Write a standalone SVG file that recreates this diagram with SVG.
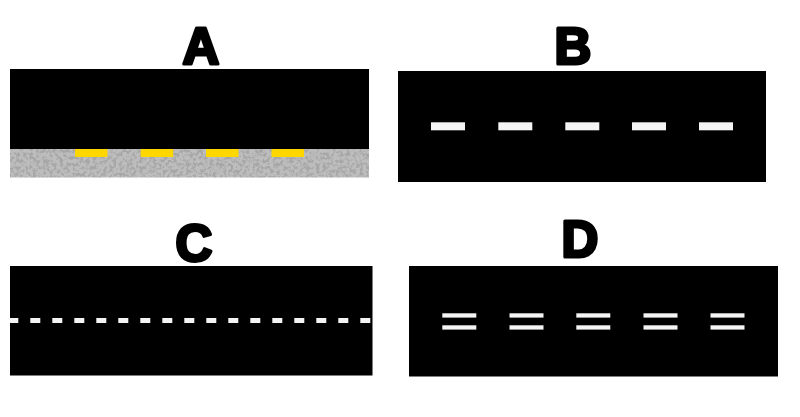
<svg xmlns="http://www.w3.org/2000/svg" width="800" height="417" viewBox="0 0 800 417">
<defs>
<style>
.lbl{font-family:"Liberation Sans",Arial,sans-serif;font-weight:bold;font-size:51px;fill:#000;stroke:#000;stroke-width:3.2;stroke-linejoin:round;text-anchor:middle}
.road{fill:#000}
.wd{fill:#f4f4f4}
.yd{fill:#ffd700}
</style>
<filter id="grit" x="0" y="0" width="100%" height="100%">
<feTurbulence type="fractalNoise" baseFrequency="0.3" numOctaves="3" seed="7" result="n"/>
<feColorMatrix in="n" type="matrix" values="0 0 0 0 0.38  0 0 0 0 0.38  0 0 0 0 0.38  0 0 0 -4.5 2.55" result="d"/>
<feComposite in="d" in2="SourceGraphic" operator="atop"/>
</filter>
</defs>
<rect width="800" height="417" fill="#fff"/>
<g id="panelA">
<text class="lbl" x="201" y="64">A</text>
<rect class="road" x="10" y="69" width="359" height="80"/>
<rect x="10" y="149" width="359" height="28.5" fill="#bdbdbd" filter="url(#grit)"/>
<rect class="yd" x="75" y="149" width="32.5" height="8"/>
<rect class="yd" x="140.7" y="149" width="32.5" height="8"/>
<rect class="yd" x="206" y="149" width="32.5" height="8"/>
<rect class="yd" x="271.5" y="149" width="32.5" height="8"/>
</g>
<g id="panelB">
<text class="lbl" x="573" y="63.5">B</text>
<rect class="road" x="398" y="71" width="368" height="111"/>
<rect class="wd" x="431" y="122.3" width="34" height="8"/>
<rect class="wd" x="498.3" y="122.3" width="34" height="8"/>
<rect class="wd" x="565.3" y="122.3" width="34" height="8"/>
<rect class="wd" x="632" y="122.3" width="34" height="8"/>
<rect class="wd" x="699" y="122.3" width="34" height="8"/>
</g>
<g id="panelC">
<text class="lbl" x="194" y="260.5">C</text>
<rect class="road" x="10" y="266" width="362.5" height="109.5"/>
<line x1="10" y1="320.5" x2="372.5" y2="320.5" stroke="#f4f4f4" stroke-width="5" stroke-dasharray="10 12" stroke-dashoffset="1.7"/>
</g>
<g id="panelD">
<text class="lbl" x="580" y="257">D</text>
<rect class="road" x="409" y="266" width="369" height="110.5"/>
<g class="wd">
<rect x="442.3" y="313.3" width="34" height="4.3"/>
<rect x="442.3" y="325.3" width="34" height="4.3"/>
<rect x="509.5" y="313.3" width="34" height="4.3"/>
<rect x="509.5" y="325.3" width="34" height="4.3"/>
<rect x="576.3" y="313.3" width="34" height="4.3"/>
<rect x="576.3" y="325.3" width="34" height="4.3"/>
<rect x="643.5" y="313.3" width="34" height="4.3"/>
<rect x="643.5" y="325.3" width="34" height="4.3"/>
<rect x="710.5" y="313.3" width="34" height="4.3"/>
<rect x="710.5" y="325.3" width="34" height="4.3"/>
</g>
</g>
</svg>
